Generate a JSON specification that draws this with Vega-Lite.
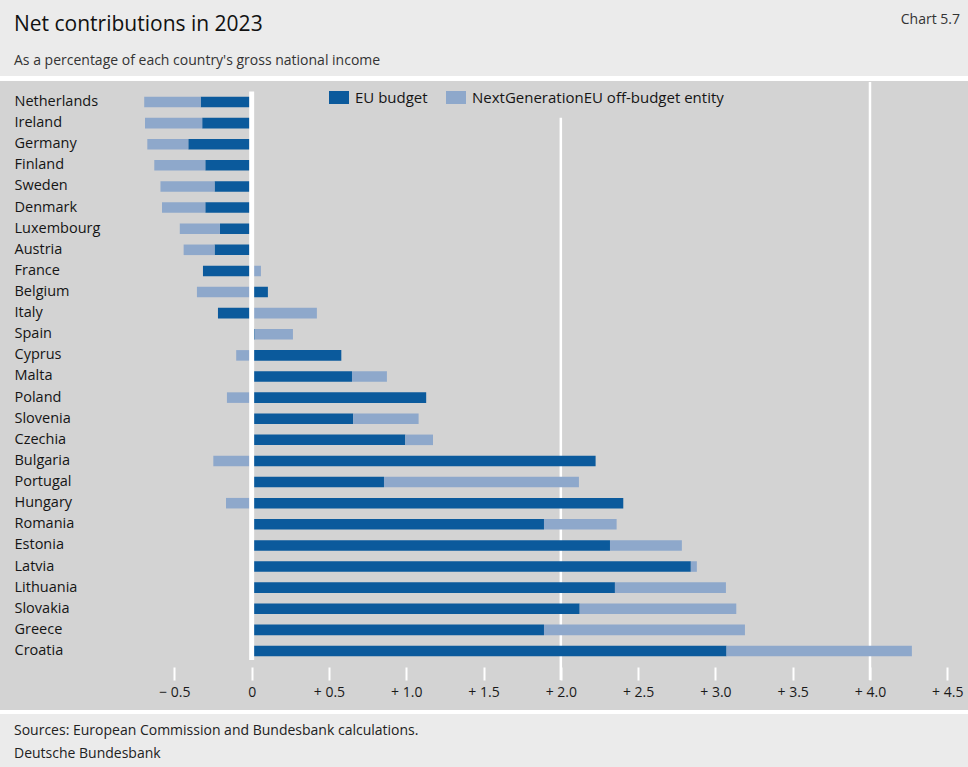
{
  "$schema": "https://vega.github.io/schema/vega-lite/v6.json",
  "background": "white",
  "padding": 0,
  "autosize": {"type": "pad"},
  "spacing": 4,
  "config": {"font": "Open Sans", "view": {"stroke": null}},
  "title": {
    "text": "Chart 5.7",
    "anchor": "end",
    "frame": "group",
    "orient": "top",
    "offset": -27,
    "dx": -8,
    "fontSize": 14,
    "fontWeight": "normal",
    "color": "#333333"
  },
  "datasets": {
    "contributions": [
      {"country": "Netherlands", "series": "EU budget", "value": -0.33},
      {"country": "Netherlands", "series": "NextGenerationEU off-budget entity", "value": -0.365},
      {"country": "Ireland", "series": "EU budget", "value": -0.32},
      {"country": "Ireland", "series": "NextGenerationEU off-budget entity", "value": -0.37},
      {"country": "Germany", "series": "EU budget", "value": -0.41},
      {"country": "Germany", "series": "NextGenerationEU off-budget entity", "value": -0.265},
      {"country": "Finland", "series": "EU budget", "value": -0.3},
      {"country": "Finland", "series": "NextGenerationEU off-budget entity", "value": -0.33},
      {"country": "Sweden", "series": "EU budget", "value": -0.24},
      {"country": "Sweden", "series": "NextGenerationEU off-budget entity", "value": -0.35},
      {"country": "Denmark", "series": "EU budget", "value": -0.3},
      {"country": "Denmark", "series": "NextGenerationEU off-budget entity", "value": -0.28},
      {"country": "Luxembourg", "series": "EU budget", "value": -0.205},
      {"country": "Luxembourg", "series": "NextGenerationEU off-budget entity", "value": -0.26},
      {"country": "Austria", "series": "EU budget", "value": -0.24},
      {"country": "Austria", "series": "NextGenerationEU off-budget entity", "value": -0.2},
      {"country": "France", "series": "EU budget", "value": -0.315},
      {"country": "France", "series": "NextGenerationEU off-budget entity", "value": 0.06},
      {"country": "Belgium", "series": "EU budget", "value": 0.105},
      {"country": "Belgium", "series": "NextGenerationEU off-budget entity", "value": -0.354},
      {"country": "Italy", "series": "EU budget", "value": -0.218},
      {"country": "Italy", "series": "NextGenerationEU off-budget entity", "value": 0.422},
      {"country": "Spain", "series": "EU budget", "value": 0.02},
      {"country": "Spain", "series": "NextGenerationEU off-budget entity", "value": 0.247},
      {"country": "Cyprus", "series": "EU budget", "value": 0.58},
      {"country": "Cyprus", "series": "NextGenerationEU off-budget entity", "value": -0.1},
      {"country": "Malta", "series": "EU budget", "value": 0.649},
      {"country": "Malta", "series": "NextGenerationEU off-budget entity", "value": 0.226},
      {"country": "Poland", "series": "EU budget", "value": 1.129},
      {"country": "Poland", "series": "NextGenerationEU off-budget entity", "value": -0.16},
      {"country": "Slovenia", "series": "EU budget", "value": 0.657},
      {"country": "Slovenia", "series": "NextGenerationEU off-budget entity", "value": 0.423},
      {"country": "Czechia", "series": "EU budget", "value": 0.994},
      {"country": "Czechia", "series": "NextGenerationEU off-budget entity", "value": 0.179},
      {"country": "Bulgaria", "series": "EU budget", "value": 2.225},
      {"country": "Bulgaria", "series": "NextGenerationEU off-budget entity", "value": -0.248},
      {"country": "Portugal", "series": "EU budget", "value": 0.856},
      {"country": "Portugal", "series": "NextGenerationEU off-budget entity", "value": 1.261},
      {"country": "Hungary", "series": "EU budget", "value": 2.404},
      {"country": "Hungary", "series": "NextGenerationEU off-budget entity", "value": -0.166},
      {"country": "Romania", "series": "EU budget", "value": 1.891},
      {"country": "Romania", "series": "NextGenerationEU off-budget entity", "value": 0.47},
      {"country": "Estonia", "series": "EU budget", "value": 2.318},
      {"country": "Estonia", "series": "NextGenerationEU off-budget entity", "value": 0.465},
      {"country": "Latvia", "series": "EU budget", "value": 2.841},
      {"country": "Latvia", "series": "NextGenerationEU off-budget entity", "value": 0.039},
      {"country": "Lithuania", "series": "EU budget", "value": 2.35},
      {"country": "Lithuania", "series": "NextGenerationEU off-budget entity", "value": 0.718},
      {"country": "Slovakia", "series": "EU budget", "value": 2.122},
      {"country": "Slovakia", "series": "NextGenerationEU off-budget entity", "value": 1.013},
      {"country": "Greece", "series": "EU budget", "value": 1.891},
      {"country": "Greece", "series": "NextGenerationEU off-budget entity", "value": 1.3},
      {"country": "Croatia", "series": "EU budget", "value": 3.072},
      {"country": "Croatia", "series": "NextGenerationEU off-budget entity", "value": 1.199}
    ]
  },
  "vconcat": [
    {
      "width": 968,
      "height": 76,
      "view": {"fill": "#ebebeb", "stroke": null},
      "data": {"values": [{}]},
      "mark": {"type": "text", "text": ""},
      "title": {
        "text": "Net contributions in 2023",
        "subtitle": "As a percentage of each country's gross national income",
        "anchor": "start",
        "frame": "group",
        "orient": "top",
        "offset": -68,
        "dx": 14,
        "fontSize": 21,
        "fontWeight": "normal",
        "color": "#111111",
        "subtitleFontSize": 14,
        "subtitleColor": "#333333",
        "subtitlePadding": 19
      }
    },
    {
      "width": 968,
      "height": 629,
      "view": {"fill": "#d3d3d3", "stroke": null},
      "layer": [
        {
          "data": {"values": [{"v": 2}]},
          "mark": {"type": "rule", "color": "white", "strokeWidth": 2.5},
          "encoding": {
            "x": {"field": "v", "type": "quantitative"},
            "y": {"datum": "Ireland", "bandPosition": 0},
            "y2": {"datum": "Croatia", "bandPosition": 3.25}
          }
        },
        {
          "data": {"values": [{"v": 4}]},
          "mark": {"type": "rule", "color": "white", "strokeWidth": 2.5},
          "encoding": {
            "x": {"field": "v", "type": "quantitative"},
            "y": {"datum": "Netherlands", "bandPosition": -1.39},
            "y2": {"datum": "Croatia", "bandPosition": 3.25}
          }
        },
        {
          "data": {"name": "contributions"},
          "mark": {"type": "bar"},
          "encoding": {
            "y": {
              "field": "country",
              "type": "nominal",
              "title": null,
              "scale": {
                "domain": ["Netherlands", "Ireland", "Germany", "Finland", "Sweden", "Denmark", "Luxembourg", "Austria", "France", "Belgium", "Italy", "Spain", "Cyprus", "Malta", "Poland", "Slovenia", "Czechia", "Bulgaria", "Portugal", "Hungary", "Romania", "Estonia", "Latvia", "Lithuania", "Slovakia", "Greece", "Croatia"],
                "range": [10.44, 580.55],
                "paddingInner": 0.5,
                "paddingOuter": 0.25
              },
              "axis": {
                "ticks": false,
                "domain": false,
                "labelAlign": "left",
                "labelPadding": -14,
                "labelFontSize": 14.5,
                "labelColor": "#151515"
              }
            },
            "x": {
              "field": "value",
              "type": "quantitative",
              "stack": "zero",
              "title": null,
              "scale": {"domain": [-1.628, 4.634], "nice": false, "zero": false},
              "axis": {
                "orient": "bottom",
                "offset": -43,
                "values": [-0.5, 0, 0.5, 1, 1.5, 2, 2.5, 3, 3.5, 4, 4.5],
                "domain": false,
                "grid": false,
                "tickColor": "white",
                "tickWidth": 2,
                "tickSize": 13,
                "labelPadding": 5,
                "labelFontSize": 14,
                "labelColor": "#1a1a1a",
                "labelFlush": false,
                "labelOverlap": false,
                "labelExpr": "datum.value < 0 ? '− ' + format(-datum.value, '.1f') : datum.value == 0 ? '0' : '+ ' + format(datum.value, '.1f')"
              }
            },
            "color": {
              "field": "series",
              "type": "nominal",
              "sort": ["EU budget", "NextGenerationEU off-budget entity"],
              "scale": {"range": ["#0b5a9c", "#8ea8cb"]},
              "legend": {
                "orient": "none",
                "legendX": 329,
                "legendY": 87.5,
                "direction": "horizontal",
                "title": null,
                "symbolType": "M-1,-0.65H1V0.65H-1Z",
                "symbolSize": 400,
                "symbolStrokeWidth": 0,
                "labelFontSize": 15,
                "labelColor": "#151515",
                "labelLimit": 400,
                "labelOffset": 6,
                "columnPadding": 18,
                "padding": 0
              }
            },
            "order": {"field": "series", "sort": "ascending"}
          }
        },
        {
          "data": {"values": [{"v": 0}]},
          "mark": {"type": "rule", "color": "white", "strokeWidth": 5},
          "encoding": {
            "x": {"field": "v", "type": "quantitative"},
            "y": {"datum": "Netherlands", "bandPosition": -0.5},
            "y2": {"datum": "Croatia", "bandPosition": 1.35}
          }
        }
      ]
    },
    {
      "width": 968,
      "height": 54,
      "view": {"fill": "#ebebeb", "stroke": null},
      "data": {"values": [{}]},
      "mark": {"type": "text", "text": ""},
      "title": {
        "text": ["Sources: European Commission and Bundesbank calculations.", "Deutsche Bundesbank"],
        "anchor": "start",
        "frame": "group",
        "orient": "top",
        "offset": -47,
        "dx": 14,
        "fontSize": 14,
        "fontWeight": "normal",
        "lineHeight": 23,
        "color": "#222222"
      }
    }
  ]
}
